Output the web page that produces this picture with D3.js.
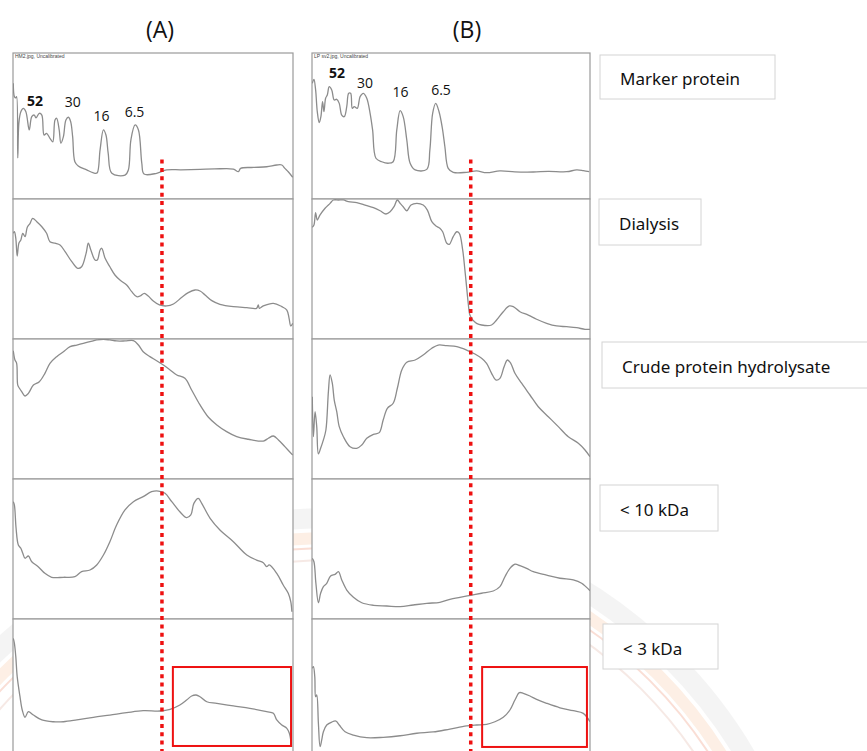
<!DOCTYPE html>
<html>
<head>
<meta charset="utf-8">
<script src="https://cdn.jsdelivr.net/npm/d3@7"></script>
<style>
  html, body { margin: 0; padding: 0; background: #fff; }
  svg { display: block; }
</style>
</head>
<body>
<svg id="chart" width="867" height="751"></svg>
<script>
// Densitometric scans of SDS-PAGE lanes: two samples (A, B), five fractions each.
// x = relative migration distance along the lane (%), y = relative band intensity (%).

const lanes = ["(A)", "(B)"];
const scanHeaders = ["HM2.jpg, Uncalibrated", "LP sv2.jpg, Uncalibrated"];
const fractions = ["Marker protein", "Dialysis", "Crude protein hydrolysate", "< 10 kDa", "< 3 kDa"];

// Marker protein peaks (kDa) with their label anchors [x, y]
const markerKDa = ["52", "30", "16", "6.5"];
const markerLabelA = [[7.9, 63.9], [21.3, 63.2], [31.6, 53.4], [43.4, 56.4]];
const markerLabelB = [[9.0, 82.7], [19.1, 75.8], [31.8, 69.7], [46.4, 71.2]];

// Cut-off position drawn as the dotted red guide, per lane (% migration)
const cutoffX = [53.2, 57.1];
// Highlighted low-molecular-weight region in the < 3 kDa scans: [x0, x1, y0, y1]
const highlightA = [57.1, 99.3, 9.3, 65.7];
const highlightB = [61.2, 98.9, 8.6, 65.7];

// ---- lane A traces ----
const markerA = [[0.1,79.2],[0.5,70.1],[1.0,69.2],[1.3,70.1],[1.7,28.1],[2.1,52.1],[2.8,59.8],[3.7,62.1],[4.6,59.8],[5.8,47.3],[6.7,56.4],[7.6,57.5],[8.2,55.5],[9.4,58.7],[10.3,57.5],[11.1,43.8],[12.0,45.0],[13.2,41.6],[14.2,39.2],[15.0,54.1],[15.6,55.3],[16.5,47.3],[17.1,38.2],[18.0,42.7],[18.9,54.1],[19.8,56.0],[20.6,52.9],[21.3,42.7],[22.1,25.5],[23.3,22.6],[26.3,19.9],[29.3,17.6],[30.1,18.0],[31.1,33.6],[32.3,47.3],[33.2,43.8],[34.0,31.3],[35.3,17.6],[40.0,16.4],[41.2,19.9],[42.1,40.4],[43.6,50.7],[44.8,47.3],[46.0,24.5],[46.8,17.1],[51.3,17.6],[54.9,19.9],[60.0,20.0],[66.8,20.3],[72.0,20.6],[78.7,20.5],[80.5,18.7],[81.3,21.0],[86.0,21.6],[90.6,22.1],[94.2,23.3],[96.0,23.3],[97.1,21.0],[98.3,18.7],[99.9,14.9]];
const dialysisA = [[0.1,75.5],[0.5,76.6],[1.0,71.9],[1.5,59.3],[2.1,68.4],[2.8,70.7],[3.5,75.5],[4.3,73.1],[5.1,79.8],[6.1,82.6],[7.0,86.2],[8.5,83.8],[10.3,80.2],[12.0,75.5],[13.2,69.5],[15.0,68.4],[16.8,67.1],[18.6,62.4],[21.0,55.2],[23.1,50.5],[24.5,51.6],[26.1,61.2],[26.9,68.4],[27.8,63.6],[29.3,56.4],[30.1,56.4],[31.1,63.6],[31.7,64.8],[32.9,57.6],[34.6,51.6],[36.4,45.7],[38.2,42.1],[40.6,38.6],[42.4,33.8],[44.2,30.2],[45.4,30.7],[46.9,32.6],[48.3,30.7],[50.1,27.1],[52.3,24.3],[54.9,23.6],[57.3,25.0],[60.3,29.8],[62.6,33.1],[65.0,35.0],[66.8,34.3],[68.6,31.4],[71.0,27.4],[73.9,24.8],[78.7,23.1],[83.5,22.4],[87.0,21.9],[87.6,24.3],[88.0,21.9],[89.4,23.6],[93.0,25.5],[96.0,23.1],[97.8,20.7],[98.6,14.8],[99.2,9.3],[99.9,11.2]];
const crudeA = [[0.1,91.6],[0.7,85.0],[1.3,82.6],[1.7,67.1],[2.3,64.8],[3.1,62.4],[4.3,59.3],[5.5,61.2],[7.3,67.1],[9.4,69.5],[11.4,75.5],[13.2,82.6],[15.6,87.4],[18.0,90.9],[20.4,94.5],[22.8,95.7],[25.1,96.9],[27.5,98.1],[29.9,99.3],[32.3,99.8],[34.6,99.3],[37.0,98.6],[40.0,98.6],[43.0,98.8],[44.8,95.7],[46.5,90.9],[48.9,87.4],[51.3,84.5],[53.7,81.4],[56.1,77.9],[58.5,74.3],[61.4,71.9],[63.8,63.6],[66.8,52.9],[69.8,44.1],[72.8,38.6],[76.3,33.8],[79.9,30.2],[84.0,28.4],[89.4,27.1],[91.2,29.1],[93.0,30.7],[94.8,27.9],[97.1,23.1],[99.9,17.1]];
const under10A = [[0.1,83.8],[0.5,81.4],[1.1,64.8],[1.9,52.9],[2.8,50.5],[3.5,46.9],[4.3,43.4],[5.5,45.0],[6.7,40.9],[9.0,37.4],[11.4,32.6],[13.8,29.8],[18.0,29.8],[22.1,30.2],[24.5,33.8],[27.5,35.0],[29.9,38.6],[32.3,45.7],[34.6,55.2],[37.0,67.1],[40.0,77.9],[43.0,83.8],[46.5,87.4],[49.5,90.9],[51.9,91.4],[54.3,89.8],[56.7,83.8],[59.6,76.6],[62.0,72.4],[63.5,74.3],[64.6,82.6],[66.2,86.2],[67.4,82.6],[70.4,71.9],[73.9,63.6],[78.7,55.2],[83.5,45.7],[87.0,42.1],[89.4,40.2],[90.6,37.4],[91.5,38.6],[94.2,32.6],[96.5,24.3],[98.3,18.4],[99.2,12.4],[99.6,5.2]];
const under3A = [[0.1,86.2],[0.5,82.6],[1.0,73.1],[1.5,58.8],[2.5,44.5],[3.3,35.0],[4.3,29.8],[5.5,33.8],[7.3,31.4],[10.3,27.9],[14.4,26.6],[18.0,26.6],[22.8,27.9],[28.7,29.8],[34.6,31.4],[40.6,33.1],[46.5,34.5],[52.5,34.3],[56.1,35.5],[59.6,38.6],[62.0,42.1],[63.8,45.0],[65.4,45.7],[66.8,44.5],[69.2,40.9],[72.8,39.8],[78.7,37.9],[84.6,36.2],[90.6,33.8],[93.0,32.6],[94.2,27.9],[96.0,24.3],[97.8,21.9],[98.7,18.4],[99.5,8.8]];

// ---- lane B traces ----
const markerB = [[0.1,79.2],[0.7,82.0],[1.3,74.7],[1.9,59.8],[2.6,52.3],[3.2,56.4],[3.8,66.6],[4.3,59.8],[4.9,69.0],[5.5,71.2],[6.2,76.9],[7.1,74.7],[8.0,67.8],[8.9,68.3],[9.8,65.5],[10.7,57.5],[11.6,56.4],[12.5,63.2],[13.2,72.4],[13.9,72.4],[14.5,62.1],[15.2,63.2],[16.3,62.1],[17.3,70.1],[18.5,72.4],[19.7,69.0],[20.9,58.7],[21.8,47.3],[23.0,27.9],[25.1,25.5],[27.4,24.5],[29.2,25.5],[30.5,47.3],[31.7,60.5],[32.8,56.4],[34.1,40.4],[35.3,24.5],[37.1,19.9],[41.3,20.3],[42.4,33.6],[43.4,58.7],[44.5,65.5],[45.7,59.8],[46.9,48.4],[47.8,35.8],[49.0,21.0],[50.8,18.3],[55.6,18.3],[59.2,19.2],[62.8,18.0],[67.6,19.2],[73.0,18.6],[79.6,18.5],[85.0,18.9],[91.6,18.7],[95.2,19.9],[97.6,19.4],[99.7,18.7]];
const dialysisB = [[0.1,79.8],[0.7,81.4],[1.3,90.2],[1.9,85.0],[2.9,88.6],[4.7,93.4],[6.5,96.9],[7.7,99.3],[9.5,99.3],[11.3,99.3],[13.1,98.1],[16.1,97.4],[19.1,95.7],[22.1,93.8],[24.5,91.6],[26.6,89.3],[28.1,90.9],[29.5,94.5],[30.7,99.3],[31.7,96.9],[32.8,94.5],[34.1,91.6],[35.6,95.7],[37.7,96.9],[40.0,95.7],[41.5,92.1],[43.1,83.8],[44.6,80.7],[46.0,79.1],[47.0,76.6],[48.5,68.4],[49.4,67.6],[50.8,73.1],[52.1,76.6],[53.0,75.5],[54.2,63.6],[55.0,49.3],[55.6,37.4],[56.2,25.5],[56.8,17.1],[57.8,13.6],[59.2,11.2],[61.0,10.0],[64.6,10.0],[66.4,13.6],[68.8,19.5],[71.0,23.6],[72.4,23.1],[74.8,19.5],[77.8,17.1],[80.8,14.1],[84.4,11.2],[88.0,9.3],[91.6,8.8],[95.2,8.1],[98.2,6.9],[100,6.9]];
const crudeB = [[0.1,58.8],[0.5,30.2],[1.1,48.1],[1.7,37.4],[2.3,17.9],[3.1,21.9],[4.1,27.9],[5.0,35.0],[5.9,62.4],[6.5,74.3],[7.3,68.4],[8.0,56.4],[8.9,48.1],[9.8,37.4],[11.3,30.2],[13.7,23.1],[16.1,21.9],[17.9,24.3],[19.7,29.1],[22.1,31.9],[24.2,33.1],[25.6,42.1],[27.1,50.5],[29.2,54.1],[30.7,64.8],[32.3,77.9],[34.1,83.4],[37.1,85.0],[40.0,88.6],[43.1,93.4],[45.4,95.7],[48.5,95.2],[52.1,94.5],[55.6,92.1],[58.6,89.3],[61.0,86.2],[62.8,82.6],[64.6,75.5],[66.2,70.7],[67.6,71.9],[69.1,80.2],[70.3,85.0],[71.5,82.6],[73.0,75.5],[75.4,68.4],[78.4,60.0],[81.4,51.6],[85.0,44.5],[88.6,37.4],[92.2,30.2],[95.8,25.5],[98.2,20.7],[100,15.9]];
const under10B = [[0.1,43.4],[0.7,40.9],[1.4,25.5],[2.3,11.6],[3.1,18.4],[4.1,23.1],[5.3,25.5],[6.7,30.7],[8.3,31.9],[9.5,33.8],[10.7,27.9],[12.5,20.7],[14.9,15.5],[17.9,11.6],[22.1,9.8],[26.9,9.3],[31.7,8.8],[36.4,10.0],[41.3,11.2],[46.0,11.9],[49.6,14.1],[53.2,15.5],[57.1,16.9],[61.0,18.4],[65.2,20.0],[67.6,23.1],[69.4,30.2],[71.2,36.2],[73.0,39.1],[74.8,38.1],[77.2,36.2],[79.6,33.8],[84.4,31.4],[89.2,29.1],[94.0,27.9],[97.0,25.5],[100,20.2]];
const under3B = [[0.1,64.8],[0.5,65.9],[1.0,58.8],[1.3,44.5],[1.7,45.7],[2.3,25.5],[2.9,8.8],[3.5,13.6],[4.1,19.5],[5.3,24.3],[7.1,26.4],[8.6,27.1],[9.8,24.3],[11.9,19.5],[14.9,17.1],[19.7,15.2],[25.6,15.5],[31.7,16.6],[37.7,18.4],[43.6,19.3],[49.6,21.4],[55.6,23.6],[59.2,24.3],[62.8,24.8],[65.8,26.6],[68.8,29.8],[71.2,35.0],[73.0,42.1],[74.6,47.4],[76.0,46.9],[78.4,45.0],[80.8,42.6],[84.4,39.8],[89.2,36.6],[94.0,34.5],[97.6,32.6],[100,26.6]];

const tracesA = [markerA, dialysisA, crudeA, under10A, under3A];
const tracesB = [markerB, dialysisB, crudeB, under10B, under3B];

// ---------------- layout ----------------
const W = 867, H = 751;
const colX = [[13, 293], [312, 590]];
const rowY = [[53, 199], [199, 339], [339, 479], [479, 619], [619, 759]];
const titleX = [160, 467];
const boxes = [
  {x: 600, y: 55,  w: 175, h: 44},
  {x: 599, y: 199, w: 102, h: 46},
  {x: 602, y: 342, w: 272, h: 46},
  {x: 600, y: 485, w: 118, h: 46},
  {x: 603, y: 624, w: 115, h: 45}
];

const traceColor = "#8c8c8c";
const frameColor = "#9a9a9a";
const red = "#ee1111";

const svg = d3.select("#chart");

// faint seal in the page background
const seal = svg.append("g").attr("opacity", 0.55);
const sealC = [330, 1000];
[[482, 20, "#ececec"], [462, 12, "#fde3d0"], [452, 2, "#f6c4b4"], [440, 2, "#f0d8d0"]].forEach(([r, w, c]) => {
  seal.append("circle").attr("cx", sealC[0]).attr("cy", sealC[1]).attr("r", r)
    .attr("fill", "none").attr("stroke", c).attr("stroke-width", w);
});

// lane titles
svg.selectAll("text.lane").data(lanes).join("text")
  .attr("class", "lane")
  .attr("x", (d, i) => titleX[i]).attr("y", 38)
  .attr("text-anchor", "middle")
  .attr("font-family", "'Open Sans', 'Noto Sans', sans-serif")
  .attr("font-size", 23).attr("font-weight", 500).attr("fill", "#111")
  .text(d => d);

const defs = svg.append("defs");
const traceSets = [tracesA, tracesB];
const markerLabels = [markerLabelA, markerLabelB];
const highlights = [highlightA, highlightB];

traceSets.forEach((traces, li) => {
  const [x0, x1] = colX[li];
  const x = d3.scaleLinear().domain([0, 100]).range([x0, x1]);

  traces.forEach((pts, ri) => {
    const [yt, yb] = rowY[ri];
    const y = d3.scaleLinear().domain([0, 100]).range([yb, yt]);
    const id = `clip-${li}-${ri}`;
    defs.append("clipPath").attr("id", id)
      .append("rect").attr("x", x0).attr("y", yt).attr("width", x1 - x0).attr("height", yb - yt);

    const g = svg.append("g");
    g.append("rect")
      .attr("x", x0).attr("y", yt).attr("width", x1 - x0).attr("height", yb - yt)
      .attr("fill", "#fff").attr("stroke", frameColor).attr("stroke-width", 1.2);

    const line = d3.line()
      .x(d => x(d[0])).y(d => y(d[1]))
      .curve(d3.curveCatmullRom.alpha(0.5));
    g.append("path").datum(pts)
      .attr("clip-path", `url(#${id})`)
      .attr("d", line)
      .attr("fill", "none").attr("stroke", traceColor)
      .attr("stroke-width", 1.3).attr("stroke-linejoin", "round");

    if (ri === 0) {
      g.append("text")
        .attr("x", x0 + 2).attr("y", yt + 5)
        .attr("font-family", "Arial, 'Liberation Sans', sans-serif")
        .attr("font-size", 5).attr("fill", "#444")
        .text(scanHeaders[li]);
      g.selectAll("text.kda").data(markerKDa).join("text")
        .attr("class", "kda")
        .attr("x", (d, i) => x(markerLabels[li][i][0]))
        .attr("y", (d, i) => y(markerLabels[li][i][1]))
        .attr("text-anchor", "middle")
        .attr("font-family", "'Open Sans', 'Noto Sans', sans-serif")
        .attr("font-size", 14)
        .attr("font-weight", (d, i) => i === 0 ? 700 : 400)
        .attr("fill", "#111")
        .text(d => d);
    }

    if (ri === traces.length - 1) {
      const [hx0, hx1, hy0, hy1] = highlights[li];
      g.append("rect")
        .attr("x", x(hx0)).attr("y", y(hy1))
        .attr("width", x(hx1) - x(hx0)).attr("height", y(hy0) - y(hy1))
        .attr("fill", "none").attr("stroke", red).attr("stroke-width", 2);
    }
  });

  // dotted cut-off guide, from the marker scan down to the bottom scan
  const yTop = d3.scaleLinear().domain([0, 100]).range([rowY[0][1], rowY[0][0]]);
  svg.append("line")
    .attr("x1", x(cutoffX[li])).attr("x2", x(cutoffX[li]))
    .attr("y1", yTop(27)).attr("y2", H)
    .attr("stroke", red).attr("stroke-width", 3.5)
    .attr("stroke-dasharray", "4,4.3");
});

// fraction labels in boxes
const lg = svg.selectAll("g.frac").data(fractions).join("g").attr("class", "frac");
lg.append("rect")
  .attr("x", (d, i) => boxes[i].x).attr("y", (d, i) => boxes[i].y)
  .attr("width", (d, i) => boxes[i].w).attr("height", (d, i) => boxes[i].h)
  .attr("fill", "#fff").attr("stroke", "#d4d4d4").attr("stroke-width", 1);
lg.append("text")
  .attr("x", (d, i) => boxes[i].x + 20)
  .attr("y", (d, i) => boxes[i].y + boxes[i].h / 2 + 8)
  .attr("font-family", "'Noto Sans', 'Open Sans', sans-serif")
  .attr("font-size", 17).attr("fill", "#111")
  .text(d => d);
</script>
</body>
</html>
